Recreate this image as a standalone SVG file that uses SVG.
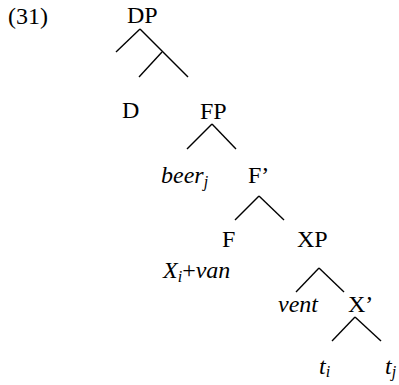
<svg xmlns="http://www.w3.org/2000/svg" width="399" height="385" viewBox="0 0 399 385">
<style>
text{font-family:'Liberation Serif','Times New Roman','DejaVu Serif',serif;font-size:24px;fill:#000}
.i{font-style:italic}
.sub{font-size:16px}
#edges line{stroke:#000;stroke-width:1.4;stroke-linecap:butt}
</style>
<rect width="399" height="385" fill="#fff"/>
<text id="label" x="8" y="24">(31)</text>
<g id="edges">
<line x1="140" y1="29" x2="116" y2="52"/>
<line x1="140" y1="29" x2="188" y2="77"/>
<line x1="162" y1="52" x2="139" y2="77"/>
<line x1="212" y1="124" x2="187" y2="149"/>
<line x1="212" y1="124" x2="236" y2="149"/>
<line x1="259" y1="196" x2="235" y2="220"/>
<line x1="259" y1="196" x2="284" y2="220"/>
<line x1="319" y1="268" x2="296" y2="292"/>
<line x1="319" y1="268" x2="344" y2="292"/>
<line x1="355" y1="317" x2="332" y2="341"/>
<line x1="355" y1="317" x2="381" y2="341"/>
</g>
<g id="DP"><text x="127" y="23">DP</text></g>
<g id="D"><text x="122" y="118">D</text></g>
<g id="FP"><text x="200" y="119">FP</text></g>
<g id="beer"><text x="161" y="183" class="i">beer<tspan class="sub" dy="4">j</tspan></text></g>
<g id="Fbar"><text x="248" y="183">F’</text></g>
<g id="F"><text x="222" y="247">F</text></g>
<g id="XP"><text x="297" y="247">XP</text></g>
<g id="Xvan"><text x="163" y="278"><tspan class="i">X</tspan><tspan class="i sub" dy="4">i</tspan><tspan dy="-4">+</tspan><tspan class="i">van</tspan></text></g>
<g id="vent"><text x="278" y="312" class="i">vent</text></g>
<g id="Xbar"><text x="348" y="312">X’</text></g>
<g id="ti"><text x="319" y="374" class="i">t<tspan class="sub" dy="3">i</tspan></text></g>
<g id="tj"><text x="385" y="374" class="i">t<tspan class="sub" dy="3">j</tspan></text></g>
</svg>
